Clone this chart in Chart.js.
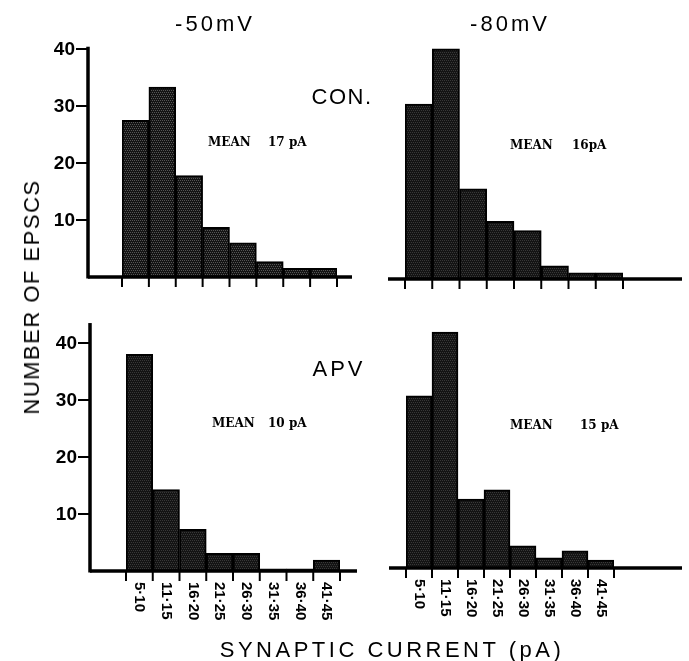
<!DOCTYPE html>
<html>
<head>
<meta charset="utf-8">
<script src="https://cdn.jsdelivr.net/npm/chart.js@4.4.1/dist/chart.umd.min.js"></script>
<style>
  body { margin: 0; background: #fff; width: 689px; height: 661px; overflow: hidden; position: relative; font-family: 'Liberation Sans', Arial, sans-serif; color: #000; }
  canvas { position: absolute; left: 0; top: 0; }
  .txt { position: absolute; white-space: pre; transform: translate(-50%, -50%); }
  .mean { position: absolute; white-space: pre; transform: translateY(-50%); font-family: 'DejaVu Serif', 'Liberation Serif', serif; font-weight: bold; font-size: 12px; }
</style>
</head>
<body>
<canvas id="pCon50" width="689" height="661"></canvas>
<canvas id="pCon80" width="689" height="661"></canvas>
<canvas id="pApv50" width="689" height="661"></canvas>
<canvas id="pApv80" width="689" height="661"></canvas>

<div class="txt" style="left:215px; top:24px; font-size:22px; letter-spacing:3px;">-50mV</div>
<div class="txt" style="left:510px; top:24px; font-size:22px; letter-spacing:3px;">-80mV</div>
<div class="txt" style="left:342px; top:97px; font-size:22px; letter-spacing:1.5px;">CON.</div>
<div class="txt" style="left:339px; top:369px; font-size:22px; letter-spacing:3px;">APV</div>
<div class="mean" style="left:208px; top:142px;">MEAN</div>
<div class="mean" style="left:268px; top:142px;">17 pA</div>
<div class="mean" style="left:510px; top:145px;">MEAN</div>
<div class="mean" style="left:572px; top:145px;">16pA</div>
<div class="mean" style="left:212px; top:423px;">MEAN</div>
<div class="mean" style="left:268px; top:423px;">10 pA</div>
<div class="mean" style="left:510px; top:425px;">MEAN</div>
<div class="mean" style="left:580px; top:425px;">15 pA</div>
<div class="txt" style="left:32px; top:297px; font-size:22px; letter-spacing:1.5px; transform: translate(-50%, -50%) rotate(-90deg);">NUMBER OF EPSCS</div>
<div class="txt" style="left:392px; top:650px; font-size:22px; letter-spacing:3.5px;">SYNAPTIC CURRENT (pA)</div>

<script>
// bins of synaptic current (pA)
const binLabels = ['5·10', '11·15', '16·20', '21·25', '26·30', '31·35', '36·40', '41·45'];

// number of EPSCs per bin
const conMinus50 = [27.5, 33.3, 17.8, 8.7, 6.0, 2.7, 1.5, 1.5];
const conMinus80 = [30.7, 40.4, 15.8, 10.1, 8.5, 2.3, 1.1, 1.1];
const apvMinus50 = [38.0, 14.3, 7.3, 3.1, 3.1, 0.4, 0.4, 1.9];
const apvMinus80 = [30.2, 41.4, 12.1, 13.7, 3.9, 1.8, 3.0, 1.4];

const yTicks = [10, 20, 30, 40];
const yMax = 44;
const pxPerUnit = 5.7;

// stippled fill like the printed bars
function hatch(light) {
    const c = document.createElement('canvas');
    c.width = 4; c.height = 4;
    const g = c.getContext('2d');
    g.fillStyle = '#141414';
    g.fillRect(0, 0, 4, 4);
    g.fillStyle = light;
    g.fillRect(0, 0, 1, 1);
    g.fillRect(2, 0, 1, 1);
    g.fillRect(1, 2, 1, 1);
    g.fillRect(3, 2, 1, 1);
    return g.createPattern(c, 'repeat');
}

// draws baseline, bin ticks, y axis and rotated bin labels from the chart scales
const axesPlugin = {
    id: 'handAxes',
    afterDraw(chart) {
        const o = chart.options.plugins.handAxes;
        const ctx = chart.ctx;
        const xs = chart.scales.x, ys = chart.scales.y;
        const base = ys.getPixelForValue(0);
        const w = xs.getPixelForValue(1) - xs.getPixelForValue(0);
        const x0 = xs.getPixelForValue(0) - w / 2;

        ctx.save();
        ctx.strokeStyle = '#000';
        ctx.fillStyle = '#000';
        ctx.lineCap = 'butt';

        // baseline
        ctx.lineWidth = 3.5;
        ctx.beginPath();
        ctx.moveTo(o.lineFrom, base);
        ctx.lineTo(o.lineTo, base);
        ctx.stroke();

        // ticks at bin edges
        ctx.lineWidth = 2;
        for (let i = 0; i <= binLabels.length; i++) {
            const x = x0 + i * w;
            ctx.beginPath();
            ctx.moveTo(x, base);
            ctx.lineTo(x, base + 10);
            ctx.stroke();
        }

        // y axis
        if (o.axisX !== null) {
            ctx.lineWidth = 3.5;
            ctx.beginPath();
            ctx.moveTo(o.axisX, base + 1.5);
            ctx.lineTo(o.axisX, ys.getPixelForValue(o.axisTop));
            ctx.stroke();
            ctx.lineWidth = 2;
            ctx.font = 'bold 19px "Liberation Sans", Arial, sans-serif';
            ctx.textAlign = 'right';
            ctx.textBaseline = 'middle';
            yTicks.forEach(v => {
                const y = ys.getPixelForValue(v);
                ctx.beginPath();
                ctx.moveTo(o.axisX - 12, y);
                ctx.lineTo(o.axisX, y);
                ctx.stroke();
                ctx.fillText(String(v), o.axisX - 13, y + 1);
            });
        }

        // rotated bin labels
        if (o.labels) {
            ctx.font = 'bold 15px "Liberation Sans", Arial, sans-serif';
            ctx.textAlign = 'left';
            ctx.textBaseline = 'middle';
            binLabels.forEach((lab, i) => {
                ctx.save();
                ctx.translate(xs.getPixelForValue(i), base + 11);
                ctx.rotate(Math.PI / 2);
                ctx.fillText(lab, 0, 0);
                ctx.restore();
            });
        }
        ctx.restore();
    }
};

function makePanel(id, values, lay, fill) {
    const el = document.getElementById(id);
    const top = lay.base - yMax * pxPerUnit;
    return new Chart(el, {
        type: 'bar',
        data: {
            labels: binLabels,
            datasets: [{
                data: values,
                backgroundColor: hatch(fill),
                borderColor: '#000',
                borderWidth: 2,
                borderSkipped: 'bottom',
                barPercentage: 1.0,
                categoryPercentage: 1.0
            }]
        },
        options: {
            responsive: false,
            devicePixelRatio: 1,
            animation: false,
            events: [],
            layout: {
                padding: { left: lay.left, right: 689 - lay.right, top: top, bottom: 661 - lay.base }
            },
            scales: {
                x: { display: false },
                y: { display: false, min: 0, max: yMax }
            },
            plugins: {
                legend: { display: false },
                tooltip: { enabled: false },
                handAxes: lay
            }
        },
        plugins: [axesPlugin]
    });
}

makePanel('pCon50', conMinus50, { left: 122, right: 337, base: 277, axisX: 88, axisTop: 40.4, lineFrom: 88, lineTo: 352, labels: false }, '#555555');
makePanel('pCon80', conMinus80, { left: 405, right: 623, base: 279, axisX: null, lineFrom: 388, lineTo: 682, labels: false }, '#383838');
makePanel('pApv50', apvMinus50, { left: 126, right: 340, base: 571, axisX: 90, axisTop: 43.5, lineFrom: 90, lineTo: 357, labels: true }, '#383838');
makePanel('pApv80', apvMinus80, { left: 406, right: 614, base: 568, axisX: null, lineFrom: 389, lineTo: 682, labels: true }, '#383838');
</script>
</body>
</html>
